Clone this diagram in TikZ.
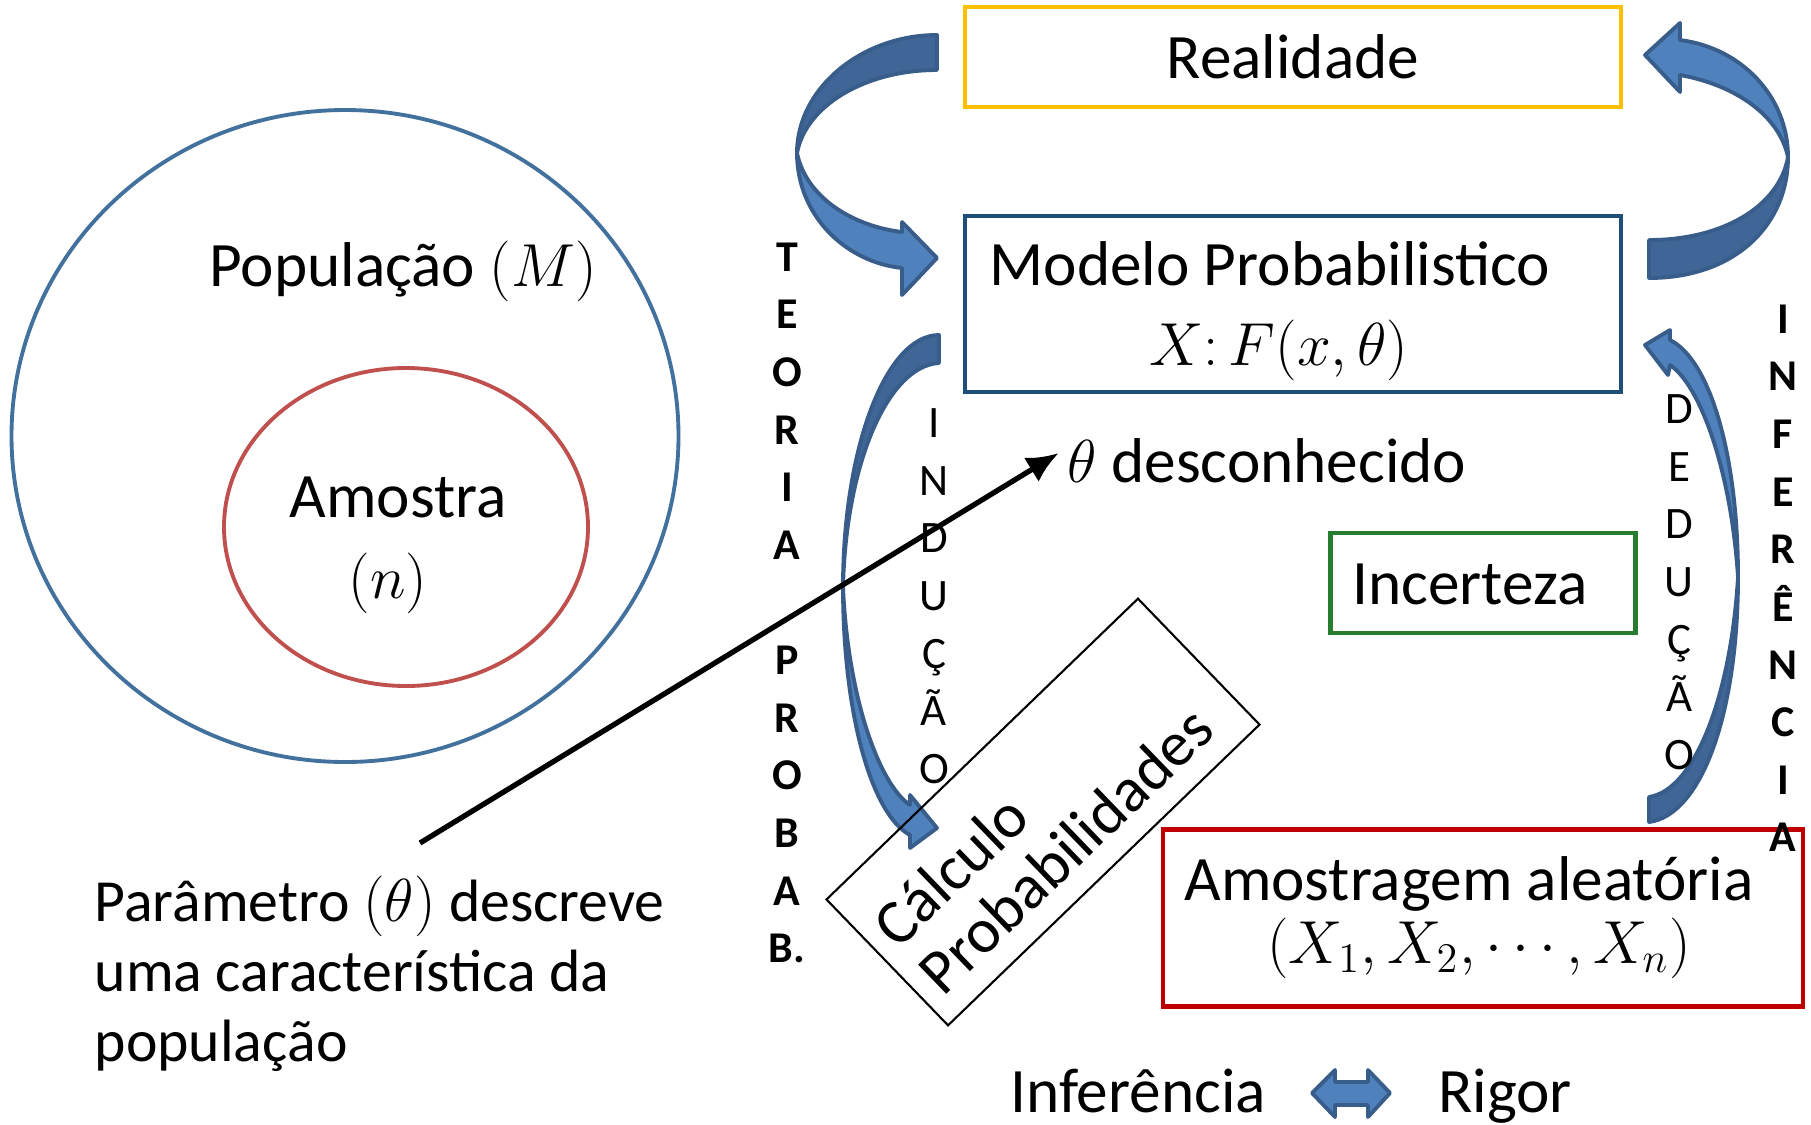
\documentclass[tikz,border=0pt]{standalone}
\usepackage{fontspec}
\setmainfont{Carlito}
\usetikzlibrary{arrows.meta, shapes.geometric}

\definecolor{popblue}{RGB}{65,113,156}
\definecolor{samplered}{RGB}{192,80,77}
\definecolor{realorange}{RGB}{255,192,0}
\definecolor{modelblue}{RGB}{31,78,121}
\definecolor{doubtgreen}{RGB}{38,125,48}
\definecolor{drawred}{RGB}{192,0,0}
\definecolor{arrlight}{RGB}{79,129,189}
\definecolor{arrdark}{RGB}{63,102,150}
\definecolor{arrline}{RGB}{56,93,138}

\begin{document}
\begin{tikzpicture}[
		x = 0.1mm, y = -0.1mm, % one unit = one pixel, y points down
		> = {Latex[length=9pt, width=8pt]}, % arrow head style
		font = \fontsize{18}{21}\selectfont,
		every node/.style = {inner sep=0pt}
		]
		
		\tikzstyle{box}=[draw, line width=1.4pt]
		\tikzstyle{ring}=[draw, ellipse, line width=1.1pt]
		\tikzstyle{vplain}=[anchor=north, align=center, font=\fontsize{12.8}{16.4}\selectfont]
		\tikzstyle{vbold}=[vplain, font=\fontsize{12.5}{16.4}\selectfont\bfseries]
		\tikzstyle{bentdark}=[fill=arrdark, draw=arrline, line width=1.1pt, line join=round]
		\tikzstyle{bentlight}=[fill=arrlight, draw=arrline, line width=1.1pt, line join=round]
		
		\useasboundingbox (0,0) rectangle (1811,1124);
		
		% population and sample
		\node[ring, draw=popblue, minimum width=66.7mm, minimum height=65.2mm] (pop) at (345,436) {};
		\node[ring, draw=samplered, minimum width=36.4mm, minimum height=31.8mm] (sample) at (406,527) {};
		\node[anchor=base] (poplabel) at (403,286) {População $(M)$};
		\node[anchor=base] (samplelabel) at (398,517) {Amostra};
		\node (samplesize) at (388,583) {\fontsize{17}{20}\selectfont $(n)$};
		
		% boxes
		\node[box, draw=realorange, minimum width=65.6mm, minimum height=10mm] (real) at (1293,57) {Realidade};
		\node[box, draw=modelblue, minimum width=65.6mm, minimum height=17.6mm] (model) at (1293,304) {};
		\node[anchor=base] (modeltitle) at (1270,285) {Modelo Probabilistico};
		\node (modelformula) at (1279,350) {$X\colon F(x,\theta)$};
		\node[anchor=base] (theta) at (1267,482) {$\theta$ desconhecido};
		\node[box, draw=doubtgreen, minimum width=30.5mm, minimum height=10mm] (doubt) at (1483,583) {};
		\node (doubtlabel) at (1470,584) {Incerteza};
		\node[box, draw=drawred, minimum width=64mm, minimum height=17.7mm] (sampling) at (1483,918) {};
		\node[anchor=base] (samplingtitle) at (1469,900) {Amostragem aleatória};
		\node (samplingformula) at (1479,948) {$(X_1,X_2,\cdots,X_n)$};
		
		% curved block arrows
		\path[bentdark] (937,35) .. controls (862,35) and (797,88) .. (797,153)
			.. controls (806,105) and (866,70) .. (937,70) -- cycle;
		\path[bentlight] (797,153) .. controls (797,215) and (845,262) .. (902,268)
			-- (902,295) -- (937,258) -- (902,222) -- (902,232)
			.. controls (852,226) and (806,197) .. (797,153) -- cycle;
		
		\path[bentdark] (1649,278) .. controls (1735,278) and (1788,225) .. (1788,157)
			.. controls (1779,207) and (1722,240) .. (1649,240) -- cycle;
		\path[bentlight] (1788,157) .. controls (1788,97) and (1742,48) .. (1680,40)
			-- (1680,23) -- (1645,55) -- (1680,92) -- (1680,75)
			.. controls (1735,85) and (1779,115) .. (1788,157) -- cycle;
		
		\path[bentdark] (939,335) .. controls (886,335) and (843,448) .. (843,587)
			.. controls (846,463) and (888,366) .. (939,363) -- cycle;
		\path[bentlight] (843,587) .. controls (843,715) and (872,815) .. (910,835)
			-- (910,848) -- (937,828) -- (910,795) -- (910,805)
			.. controls (880,785) and (848,700) .. (843,587) -- cycle;
		
		\path[bentdark] (1649,822) .. controls (1702,815) and (1738,712) .. (1738,577)
			.. controls (1731,695) and (1695,790) .. (1649,797) -- cycle;
		\path[bentlight] (1738,577) .. controls (1738,455) and (1710,360) .. (1670,340)
			-- (1670,330) -- (1645,345) -- (1668,375) -- (1670,365)
			.. controls (1700,385) and (1731,470) .. (1738,577) -- cycle;
		
		\node[draw, line width=0.6pt, rotate=44, minimum width=43.3mm, minimum height=17.5mm] (calc) at (1043,812) {};
		\node[rotate=44, align=left, font=\fontsize{18}{18.5}\selectfont] (calclabel) at (1043,826) {Cálculo\\Probabilidades};
		
		% parameter note and its arrow
		\node[anchor=north west, align=left, font=\fontsize{17}{20}\selectfont] (param) at (94,875)
			{Parâmetro $(\theta)$ descreve\\uma característica da\\população};
		\coordinate (paramtip) at (420,843);
		\draw[->, line width=1.5pt, shorten >=1mm] (paramtip) -- ([yshift=3.5pt]theta.west);
		
		% vertical words
		\node[vbold] (teoria) at (787,242) {T\\E\\O\\R\\I\\A\\[16.4pt]P\\R\\O\\B\\A\\B.};
		\node[vplain] (induction) at (934,408) {I\\N\\D\\U\\Ç\\Ã\\O};
		\node[vplain] (deduction) at (1679,394) {D\\E\\D\\U\\Ç\\Ã\\O};
		\node[vbold] (inference) at (1783,304) {I\\N\\F\\E\\R\\Ê\\N\\C\\I\\A};
		
		% bottom line
		\node[anchor=base] (infer) at (1138,1112) {Inferência};
		\node[anchor=base] (rigor) at (1505,1112) {Rigor};
		\path[bentlight] (1312,1093) -- (1335,1070) -- (1335,1082) -- (1368,1082) -- (1368,1070)
			-- (1390,1093) -- (1368,1117) -- (1368,1105) -- (1335,1105) -- (1335,1117) -- cycle;
		
\end{tikzpicture}
\end{document}
